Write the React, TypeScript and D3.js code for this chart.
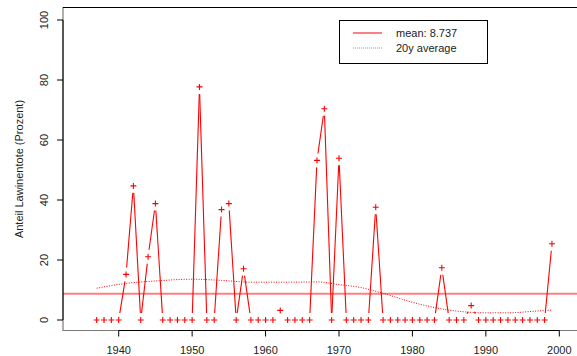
import { useEffect, useRef } from "react";
import * as d3 from "d3";

const YEARS = d3.range(1937, 2000);
const SHARE = [
  0, 0, 0, 0, 15.2, 44.7, 0, 21.1, 38.8, 0,
  0, 0, 0, 0, 77.7, 0, 0, 36.8, 38.8, 0,
  17.1, 0, 0, 0, 0, 3.2, 0, 0, 0, 0,
  53.2, 70.4, 0, 53.9, 0, 0, 0, 0, 37.6, 0,
  0, 0, 0, 0, 0, 0, 0, 17.4, 0, 0,
  0, 4.8, 0, 0, 0, 0, 0, 0, 0, 0,
  0, 0, 25.4,
];
const MEAN = 8.737;
const SMOOTH_YEARS = [1937, 1941, 1945, 1950, 1954, 1958, 1963, 1967, 1970, 1973, 1976, 1980, 1985, 1990, 1993, 1997, 1999];
const SMOOTH_VALS = [10.6, 12.2, 13.0, 13.6, 13.2, 12.6, 12.6, 12.7, 11.8, 10.8, 8.9, 5.9, 3.3, 2.4, 2.4, 3.0, 3.3];
const X_TICKS = [1940, 1950, 1960, 1970, 1980, 1990, 2000];
const Y_TICKS = [0, 20, 40, 60, 80, 100];
const LEGEND = ["mean: 8.737", "20y average"];

const W = 577;
const H = 356;
const FONT = "Liberation Sans, Arial, Helvetica, sans-serif";

export default function App() {
  const svgRef = useRef<SVGSVGElement | null>(null);

  useEffect(() => {
    const svg = d3.select(svgRef.current);
    svg.selectAll("*").remove();

    const x = d3.scaleLinear().domain([1940, 2000]).range([118.7, 559.3]);
    const y = d3.scaleLinear().domain([0, 100]).range([320, 20]);
    const box = { left: 63, top: 7.5, bottom: 330.5, right: 620 };

    // plot box
    svg.append("path")
      .attr("d", `M${box.right},${box.top}H${box.left}V${box.bottom}H${box.right}`)
      .attr("fill", "none")
      .attr("stroke", "#7a7a7a")
      .attr("stroke-width", 1.2);
    svg.append("line")
      .attr("x1", box.left).attr("x2", box.right)
      .attr("y1", box.top).attr("y2", box.top)
      .attr("stroke", "#000");

    // mean line
    svg.append("line")
      .attr("x1", box.left).attr("x2", box.right)
      .attr("y1", y(MEAN)).attr("y2", y(MEAN))
      .attr("stroke", "#ff0000")
      .attr("stroke-opacity", 0.5)
      .attr("stroke-width", 2);

    // 20y average
    const smooth = SMOOTH_YEARS.map((yr, i) => [yr, SMOOTH_VALS[i]] as [number, number]);
    const sline = d3.line<[number, number]>()
      .x((d) => x(d[0]))
      .y((d) => y(d[1]))
      .curve(d3.curveMonotoneX);
    svg.append("path")
      .attr("d", sline(smooth))
      .attr("fill", "none")
      .attr("stroke", "#ff0000")
      .attr("stroke-width", 1)
      .attr("stroke-dasharray", "1 1.5");

    // type "b": segments with gaps around points
    const pts = YEARS.map((yr, i) => [x(yr), y(SHARE[i])]);
    const gap = 7;
    const g = svg.append("g").attr("stroke", "#ff0000").attr("stroke-width", 1.1);
    for (let i = 0; i < pts.length - 1; i++) {
      const [x0, y0] = pts[i];
      const [x1, y1] = pts[i + 1];
      const len = Math.hypot(x1 - x0, y1 - y0);
      if (len <= 2 * gap) continue;
      const ux = (x1 - x0) / len;
      const uy = (y1 - y0) / len;
      g.append("line")
        .attr("x1", x0 + ux * gap).attr("y1", y0 + uy * gap)
        .attr("x2", x1 - ux * gap).attr("y2", y1 - uy * gap);
    }
    const s = 3;
    pts.forEach(([px, py]) => {
      g.append("path")
        .attr("d", `M${px - s},${py}H${px + s}M${px},${py - s}V${py + s}`)
        .attr("stroke-width", 1.1);
    });

    // y axis
    const ya = svg.append("g").attr("stroke", "#000");
    ya.append("line")
      .attr("x1", box.left).attr("x2", box.left)
      .attr("y1", y(0)).attr("y2", y(100));
    Y_TICKS.forEach((t) => {
      ya.append("line")
        .attr("x1", box.left - 6).attr("x2", box.left)
        .attr("y1", y(t)).attr("y2", y(t));
      svg.append("text")
        .attr("transform", `translate(48,${y(t)}) rotate(-90)`)
        .attr("text-anchor", "middle")
        .attr("font-family", FONT)
        .attr("font-size", 11)
        .attr("fill", "#222")
        .text(t);
    });

    // x axis
    const xa = svg.append("g").attr("stroke", "#000");
    xa.append("line")
      .attr("x1", x(1940)).attr("x2", x(2000))
      .attr("y1", box.bottom).attr("y2", box.bottom);
    X_TICKS.forEach((t) => {
      xa.append("line")
        .attr("x1", x(t)).attr("x2", x(t))
        .attr("y1", box.bottom).attr("y2", box.bottom + 6);
      svg.append("text")
        .attr("x", x(t))
        .attr("y", 354)
        .attr("text-anchor", "middle")
        .attr("font-family", FONT)
        .attr("font-size", 11)
        .attr("fill", "#222")
        .text(t);
    });

    svg.append("text")
      .attr("transform", `translate(23,${(box.top + box.bottom) / 2}) rotate(-90)`)
      .attr("text-anchor", "middle")
      .attr("font-family", FONT)
      .attr("font-size", 11)
      .attr("fill", "#222")
      .text("Anteil Lawinentote (Prozent)");

    // legend
    const lg = svg.append("g");
    lg.append("rect")
      .attr("x", 339.5).attr("y", 20.5)
      .attr("width", 148).attr("height", 43)
      .attr("fill", "#fff")
      .attr("stroke", "#000");
    LEGEND.forEach((label, i) => {
      const ly = 33 + i * 15;
      lg.append("line")
        .attr("x1", 353).attr("x2", 382)
        .attr("y1", ly).attr("y2", ly)
        .attr("stroke", "#ff0000")
        .attr("stroke-opacity", i === 0 ? 1 : 0.6)
        .attr("stroke-dasharray", i === 0 ? null : "1 1");
      lg.append("text")
        .attr("x", 396)
        .attr("y", ly + 4)
        .attr("font-family", FONT)
        .attr("font-size", 11)
        .attr("fill", "#222")
        .text(label);
    });
  }, []);

  return (
    <div style={{ position: "fixed", left: 0, top: 0, background: "#fff" }}>
      <svg ref={svgRef} width={W} height={H} style={{ display: "block" }} />
    </div>
  );
}
